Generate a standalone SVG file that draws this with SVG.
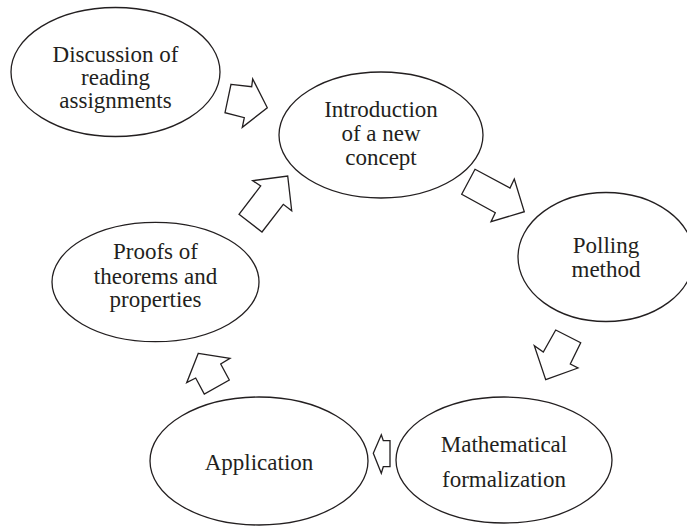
<svg xmlns="http://www.w3.org/2000/svg" width="687" height="526" viewBox="0 0 687 526">
<style>
.n{fill:#fff;stroke:#231f20;stroke-width:1.3}
.t{font-size:23px;fill:#231f20;text-anchor:middle}
.a{fill:#fff;stroke:#231f20;stroke-width:1.3;stroke-linejoin:miter}
</style>
<rect width="687" height="526" fill="#fff"/>
<g font-family="Liberation Serif, Times New Roman, serif">
<g id="n1"><ellipse class="n" cx="115.5" cy="72" rx="104.5" ry="64.5"/>
<text class="t" x="115.5" y="61.5">Discussion of</text><text class="t" x="115.5" y="84.5">reading</text><text class="t" x="115.5" y="107.5">assignments</text></g>
<g id="n2"><ellipse class="n" cx="381" cy="135" rx="102" ry="63"/>
<text class="t" x="381" y="116.5">Introduction</text><text class="t" x="381" y="141">of a new</text><text class="t" x="381" y="165">concept</text></g>
<g id="n3"><ellipse class="n" cx="606" cy="257" rx="88" ry="64.5"/>
<text class="t" x="606" y="252.5">Polling</text><text class="t" x="606" y="276.5">method</text></g>
<g id="n4"><ellipse class="n" cx="504" cy="460" rx="108" ry="63"/>
<text class="t" x="504" y="451.5">Mathematical</text><text class="t" x="504" y="486.5">formalization</text></g>
<g id="n5"><ellipse class="n" cx="259" cy="461" rx="109" ry="64"/>
<text class="t" x="259" y="469.5">Application</text></g>
<g id="n6"><ellipse class="n" cx="155.5" cy="282" rx="103.5" ry="59.7"/>
<text class="t" x="155.5" y="259">Proofs of</text><text class="t" x="155.5" y="284">theorems and</text><text class="t" x="155.5" y="307">properties</text></g>
</g>
<g id="connectors">
<polygon class="a" points="231,84.3 251.7,86.7 252.7,79 267.3,107.7 242.3,127.3 244.3,117.7 225,112.7"/>
<polygon class="a" points="475,169.3 510,188 514.3,179 524.3,211.7 491,221.7 495.3,212.7 461.7,194.3"/>
<polygon class="a" points="555.7,330 580.7,342.7 570.3,364 578,368 545.7,379.7 534.3,345.7 543.3,352"/>
<polygon class="a" points="381.3,434.7 383.3,440.7 390,440.7 390,466.7 383.3,466.7 381.3,473.3 373.3,453.3"/>
<polygon class="a" points="198.3,353.3 230,358.3 220.7,364 229.3,380 204.3,394 195.7,378 186.7,382.7"/>
<polygon class="a" points="239,214.3 262,232 283.3,204.3 291.7,210.7 287.7,176 252.7,180.7 260.7,186"/>
</g>
</svg>
